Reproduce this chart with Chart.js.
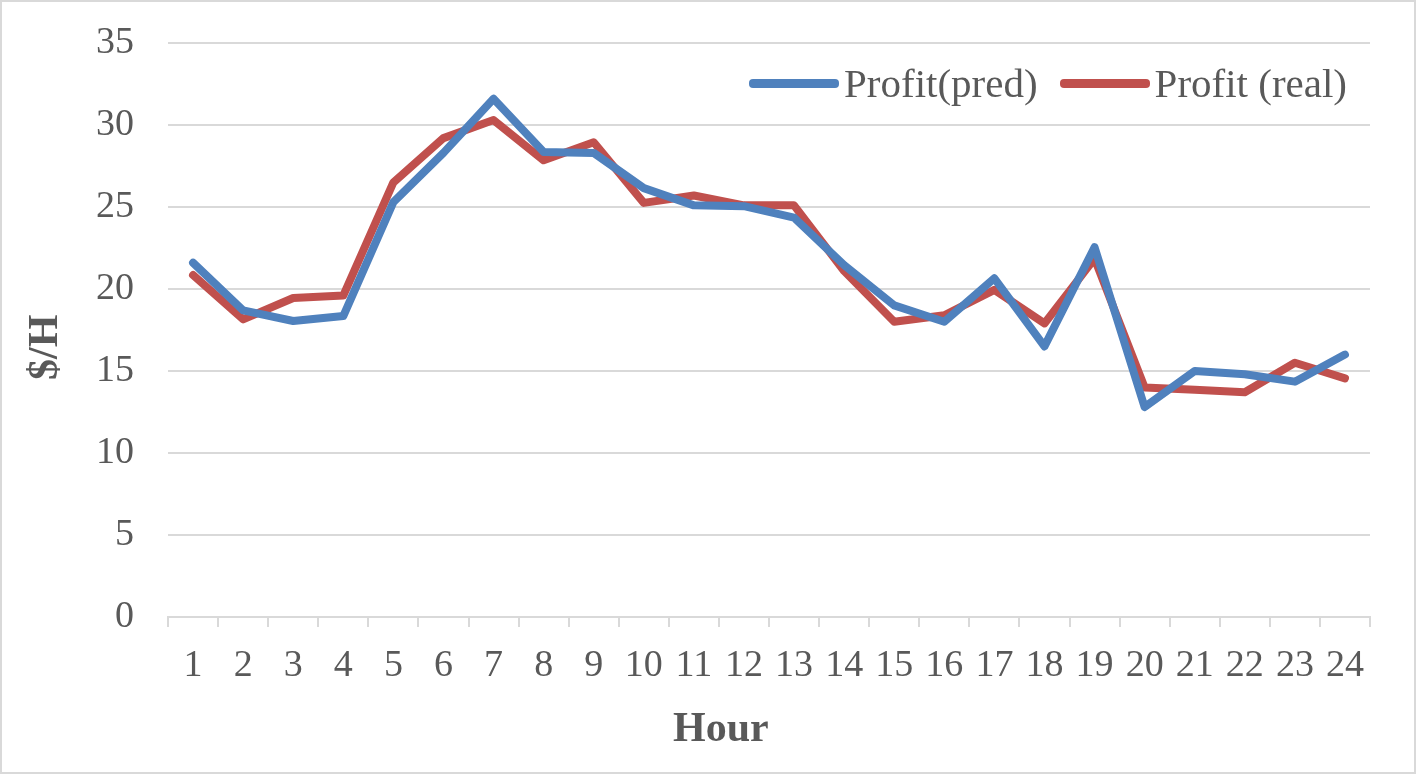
<!DOCTYPE html>
<html lang="en">
<head>
    <meta charset="UTF-8">
    <title>Profit per hour</title>
    <script src="https://cdn.jsdelivr.net/npm/chart.js"></script>
    <style>
        body {
            margin: 0;
            background: #ffffff;
        }
        #wrap {
            position: relative;
            width: 1416px;
            height: 774px;
        }
        #frame {
            position: absolute;
            left: 0; top: 0; right: 0; bottom: 0;
            border: 2px solid #d9d9d9;
            pointer-events: none;
        }
        #legend {
            position: absolute;
            right: 69px;
            top: 59px;
            display: flex;
            align-items: center;
            font-family: 'Liberation Serif', serif;
            font-size: 41px;
            color: #595959;
        }
        .item { display: flex; align-items: center; margin-left: 22px; }
        .swatch {
            width: 90px;
            height: 9px;
            border-radius: 4px;
            margin-right: 5px;
        }
    </style>
</head>
<body>

<div id="wrap">
    <canvas id="profitChart" width="1416" height="774"></canvas>
    <div id="legend"></div>
    <div id="frame"></div>
</div>

<script>
    // hours on the x axis
    const hours = ['1','2','3','4','5','6','7','8','9','10','11','12',
                   '13','14','15','16','17','18','19','20','21','22','23','24'];

    // predicted profit, $/H
    const profitPred = [21.6, 18.7, 18.05, 18.35, 25.3, 28.3, 31.6, 28.35, 28.3, 26.15, 25.1, 25.05,
                        24.35, 21.45, 19.0, 18.0, 20.65, 16.5, 22.55, 12.8, 15.0, 14.8, 14.35, 16.0];

    // real profit, $/H
    const profitReal = [20.85, 18.15, 19.45, 19.6, 26.5, 29.2, 30.3, 27.85, 28.95, 25.25, 25.7, 25.1,
                        25.1, 21.1, 18.0, 18.4, 19.95, 17.9, 21.85, 14.0, 13.85, 13.7, 15.5, 14.55];

    const seriesNames = ['Profit(pred)', 'Profit (real)'];
    const seriesColors = ['#4f81bd', '#c0504d'];
    const xTitle = 'Hour';
    const yTitle = '$/H';

    const textGrey = '#595959';
    const gridGrey = '#d9d9d9';

    // axis titles, drawn a bit off-centre like the original
    const axisTitles = {
        id: 'axisTitles',
        afterDraw(chart) {
            const ctx = chart.ctx;
            const area = chart.chartArea;
            ctx.save();
            ctx.fillStyle = textGrey;
            ctx.font = 'bold 42px "Liberation Serif"';
            ctx.textAlign = 'center';
            ctx.textBaseline = 'middle';
            ctx.fillText(xTitle, area.left + area.width * 0.46, chart.height - 44);
            ctx.translate(46, area.top + area.height * 0.53);
            ctx.rotate(-Math.PI / 2);
            ctx.fillText(yTitle, 0, 0);
            ctx.restore();
        }
    };

    const chart = new Chart(document.getElementById('profitChart'), {
        type: 'line',
        data: {
            labels: hours,
            datasets: [
                { label: seriesNames[0], data: profitPred, borderColor: seriesColors[0] },
                { label: seriesNames[1], data: profitReal, borderColor: seriesColors[1] }
            ]
        },
        plugins: [axisTitles],
        options: {
            responsive: false,
            animation: false,
            layout: { padding: { left: 0, right: 46, top: 43, bottom: 0 } },
            elements: {
                line: { borderWidth: 8, tension: 0, borderCapStyle: 'round', borderJoinStyle: 'round', fill: false },
                point: { radius: 0, hoverRadius: 0 }
            },
            plugins: {
                legend: { display: false },
                tooltip: { enabled: false }
            },
            scales: {
                x: {
                    offset: true,
                    grid: { offset: true, drawOnChartArea: false, drawTicks: true, tickLength: 10, color: gridGrey, lineWidth: 2 },
                    border: { display: true, color: gridGrey, width: 2 },
                    ticks: {
                        color: textGrey,
                        padding: 16,
                        maxRotation: 0,
                        autoSkip: false,
                        font: { family: 'Liberation Serif', size: 38 }
                    },
                    afterFit: function(scale) { scale.height = 157; }
                },
                y: {
                    min: 0,
                    max: 35,
                    ticks: {
                        stepSize: 5,
                        color: textGrey,
                        padding: 34,
                        font: { family: 'Liberation Serif', size: 38 }
                    },
                    grid: { color: gridGrey, lineWidth: 2, drawTicks: false },
                    border: { display: false },
                    afterFit: function(scale) {
                        scale.width = 168;
                        scale.paddingTop = 0;
                        scale.paddingBottom = 0;
                    }
                }
            }
        }
    });

    // legend sits inside the plot, top right
    const legendBox = document.getElementById('legend');
    chart.data.datasets.forEach(function(ds) {
        const item = document.createElement('div');
        item.className = 'item';
        const sw = document.createElement('div');
        sw.className = 'swatch';
        sw.style.background = ds.borderColor;
        const txt = document.createElement('span');
        txt.textContent = ds.label;
        item.appendChild(sw);
        item.appendChild(txt);
        legendBox.appendChild(item);
    });
</script>

</body>
</html>
